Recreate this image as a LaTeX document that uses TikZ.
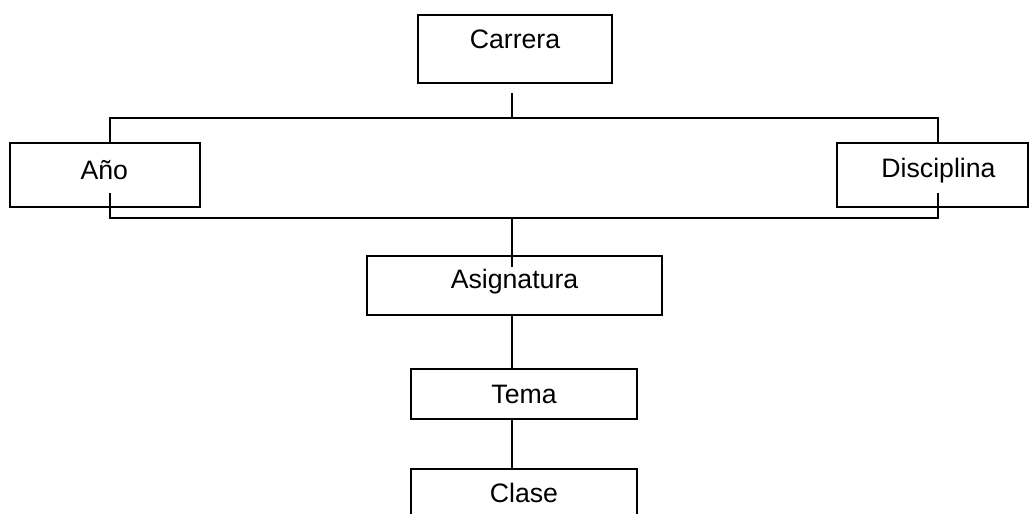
\documentclass[tikz,border=0pt]{standalone}
\usepackage{fontspec}
\setmainfont{Liberation Sans}
\begin{document}
\begin{tikzpicture}[x=0.75pt,y=-0.75pt,
  box/.style={draw=black,line width=1.5pt,rectangle,inner sep=0pt},
  conn/.style={draw=black,line width=1.5pt},
  lbl/.style={font=\fontsize{20}{24}\selectfont}]
\useasboundingbox[fill=white] (0,0) rectangle (1029,514);
% boxes
\node[box,minimum width=194*0.75pt,minimum height=68*0.75pt,
  label={[lbl,yshift=7pt]center:Carrera}] (carrera) at (515,49) {};
\node[box,minimum width=190*0.75pt,minimum height=64*0.75pt,
  label={[lbl,yshift=3.5pt,xshift=-0.5pt]center:Año}] (ano) at (105,175) {};
\node[box,minimum width=191*0.75pt,minimum height=64*0.75pt,
  label={[lbl,yshift=3.5pt,xshift=4.5pt]center:Disciplina}] (disc) at (932.5,175) {};
\node[box,minimum width=295*0.75pt,minimum height=59*0.75pt,
  label={[lbl,yshift=3pt]center:Asignatura}] (asig) at (514.5,285.5) {};
\node[box,minimum width=226*0.75pt,minimum height=50*0.75pt,
  label={[lbl,yshift=0pt]center:Tema}] (tema) at (524,394) {};
\node[box,minimum width=226*0.75pt,minimum height=60*0.75pt,
  label={[lbl,yshift=4.5pt]center:Clase}] (clase) at (524,499) {};
% connector coordinates
\coordinate (ct) at (512,93);
\coordinate (cb) at (512,118);
\coordinate (tl) at (110,118);
\coordinate (tr) at (938,118);
\coordinate (ab) at (110,193);
\coordinate (db) at (938,193);
\coordinate (bl) at (110,218);
\coordinate (br) at (938,218);
\coordinate (bm) at (512,218);
\coordinate (am) at (512,267);
% connectors
\draw[conn] (ct) -- (cb);
\draw[conn] (ano.north -| tl) -- (tl) -- (tr) -- (disc.north -| tr);
\draw[conn] (ab) -- (bl) -- (br) -- (db);
\draw[conn] (bm) -- (am);
\draw[conn] (asig.south -| bm) -- (tema.north -| bm);
\draw[conn] (tema.south -| bm) -- (clase.north -| bm);
\end{tikzpicture}
\end{document}
